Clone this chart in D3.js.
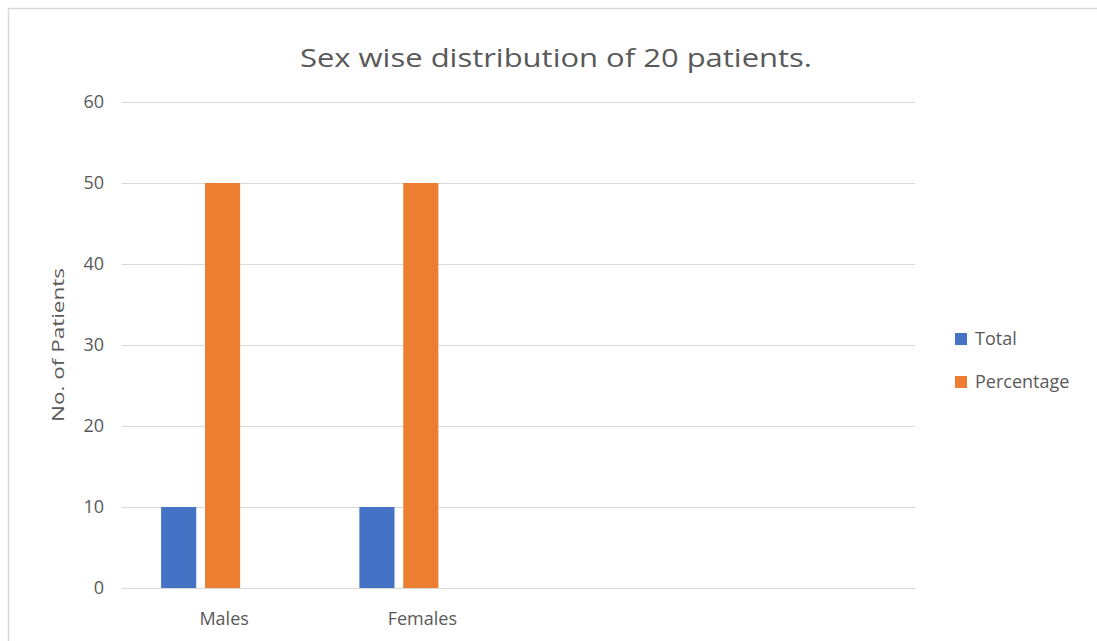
<!DOCTYPE html>
<html>
<head>
<meta charset="utf-8">
<script src="https://cdn.jsdelivr.net/npm/d3@7"></script>
<style>
  html, body { margin: 0; padding: 0; background: #fff; }
  svg { display: block; }
</style>
</head>
<body>
<svg id="chart" width="1097" height="641"></svg>
<script>
// Chart data
const categories = ["Males", "Females"];
const seriesNames = ["Total", "Percentage"];
const totalValues = [10, 10];
const percentageValues = [50, 50];
const yTicks = [0, 10, 20, 30, 40, 50, 60];
const titleText = "Sex wise distribution of 20 patients.";
const yAxisTitle = "No. of Patients";

const colors = { Total: "#4472C4", Percentage: "#ED7D31" };
const textColor = "#595959";
const gridColor = "#D9D9D9";
const fontFamily = "'Open Sans', 'Noto Sans', sans-serif";

const svg = d3.select("#chart");
const W = 1097, H = 641;

// Chart area frame
svg.append("rect").attr("x", 8.5).attr("y", 8.5)
  .attr("width", W + 10).attr("height", H + 10)
  .attr("fill", "#fff").attr("stroke", "#D9D9D9").attr("stroke-width", 1.5);

// Plot area: the category axis holds four slots, of which the first two are filled
const plotLeft = 122, plotRight = 915, plotTop = 102, plotBottom = 588;
const slotCount = 4;
const slotWidth = (plotRight - plotLeft) / slotCount;

const x = d3.scaleBand()
  .domain(categories)
  .range([plotLeft, plotLeft + slotWidth * categories.length])
  .padding(0);

const y = d3.scaleLinear().domain([0, 60]).range([plotBottom, plotTop]);

// Series positions within each category slot
const xSub = d3.scaleBand()
  .domain(seriesNames)
  .range([-60, 19])
  .paddingInner(0.2);

// Gridlines
svg.append("g").selectAll("line").data(yTicks).join("line")
  .attr("x1", plotLeft).attr("x2", plotRight)
  .attr("y1", d => Math.round(y(d)) + 0.5).attr("y2", d => Math.round(y(d)) + 0.5)
  .attr("stroke", gridColor).attr("stroke-width", 1);

// Y tick labels
svg.append("g").selectAll("text").data(yTicks).join("text")
  .attr("x", 104).attr("y", d => y(d))
  .attr("dy", "0.35em")
  .attr("text-anchor", "end")
  .attr("font-family", fontFamily).attr("font-size", 18)
  .attr("fill", textColor)
  .text(d => d);

// Bars
const rows = categories.map((c, i) => ({
  category: c,
  values: [
    { series: "Total", value: totalValues[i] },
    { series: "Percentage", value: percentageValues[i] }
  ]
}));

const groups = svg.append("g").selectAll("g").data(rows).join("g")
  .attr("transform", d => `translate(${x(d.category) + x.bandwidth() / 2},0)`);

groups.selectAll("rect").data(d => d.values).join("rect")
  .attr("x", d => xSub(d.series))
  .attr("width", xSub.bandwidth())
  .attr("y", d => y(d.value))
  .attr("height", d => y(0) - y(d.value))
  .attr("fill", d => colors[d.series]);

// Category labels
svg.append("g").selectAll("text").data(categories).join("text")
  .attr("x", d => x(d) + x.bandwidth() / 2 + 3)
  .attr("y", 619)
  .attr("dy", "0.35em")
  .attr("text-anchor", "middle")
  .attr("font-family", fontFamily).attr("font-size", 18)
  .attr("fill", textColor)
  .text(d => d);

// Title
svg.append("text")
  .attr("x", 556).attr("y", 58)
  .attr("dy", "0.35em")
  .attr("text-anchor", "middle")
  .attr("font-family", fontFamily).attr("font-size", 26)
  .attr("fill", textColor)
  .attr("textLength", 512).attr("lengthAdjust", "spacingAndGlyphs")
  .text(titleText);

// Y axis title
svg.append("text")
  .attr("transform", "translate(58,345) rotate(-90)")
  .attr("dy", "0.35em")
  .attr("text-anchor", "middle")
  .attr("font-family", fontFamily).attr("font-size", 17)
  .attr("fill", textColor)
  .attr("textLength", 154).attr("lengthAdjust", "spacingAndGlyphs")
  .text(yAxisTitle);

// Legend
const legend = svg.append("g").selectAll("g").data(seriesNames).join("g")
  .attr("transform", (d, i) => `translate(955,${339 + i * 43})`);

legend.append("rect")
  .attr("x", 0).attr("y", -6).attr("width", 12).attr("height", 12)
  .attr("fill", d => colors[d]);

legend.append("text")
  .attr("x", 20).attr("y", 0)
  .attr("dy", "0.35em")
  .attr("font-family", fontFamily).attr("font-size", 18)
  .attr("fill", textColor)
  .text(d => d);
</script>
</body>
</html>
